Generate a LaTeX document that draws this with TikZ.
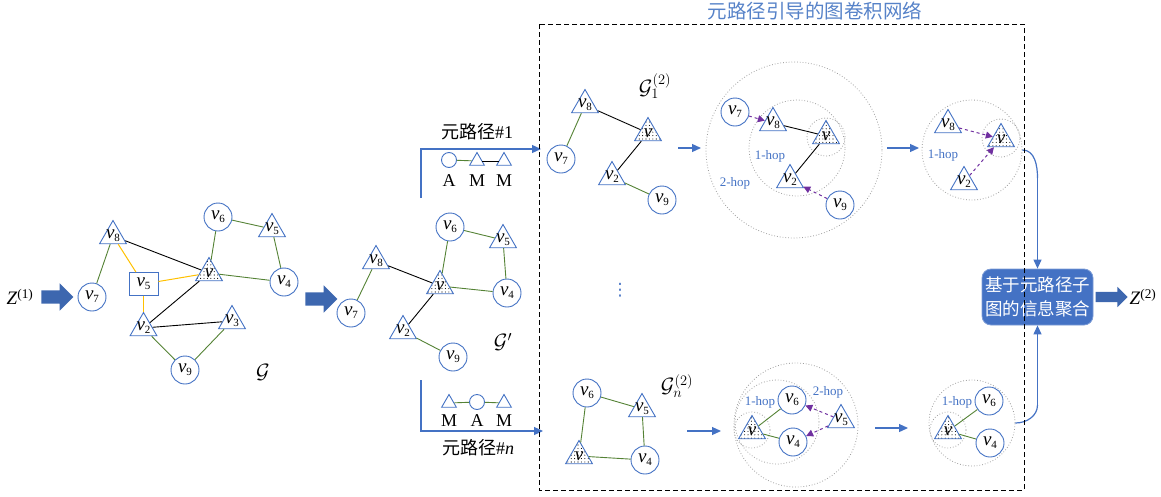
\documentclass[tikz,border=0pt]{standalone}
\usepackage{fontspec}
\setmainfont{Liberation Serif}
\newfontfamily\cjk{Noto Sans CJK SC}
\newfontfamily\dvs{DejaVu Sans}
\usetikzlibrary{shapes.geometric,shapes.arrows,patterns.meta,arrows.meta}
\definecolor{nb}{RGB}{68,114,196}
\definecolor{eg}{RGB}{84,130,53}
\definecolor{eo}{RGB}{255,192,0}
\definecolor{pu}{RGB}{112,48,160}
\definecolor{tb}{RGB}{86,130,200}
\definecolor{ab}{RGB}{61,103,175}
\definecolor{aggc}{RGB}{68,114,196}
\newcommand\vl[1]{\textit{v}\kern-0.3pt\raisebox{-0.35ex}{\fontsize{11}{11}\selectfont #1}}
\tikzset{
 cn/.style={circle,draw=nb,line width=0.9pt,fill=white,minimum size=28pt,inner sep=0pt,font=\fontsize{19}{19}\selectfont},
 sq/.style={rectangle,draw=nb,line width=0.9pt,fill=white,minimum width=29pt,minimum height=23pt,inner sep=0pt,font=\fontsize{19}{19}\selectfont},
 tbase/.style={regular polygon,regular polygon sides=3,draw=nb,line width=0.9pt,minimum size=31pt,inner sep=0pt},
 tn/.style={tbase,fill=white},
 tv/.style={tbase,preaction={fill=white},pattern={Dots[distance=3.4pt,radius=0.55pt]},label={[lbl]center:\textit{v}}},
 lbl/.style={font=\fontsize{19}{19}\selectfont,inner sep=0pt},
 smc/.style={circle,draw=nb,line width=0.9pt,fill=white,minimum size=15pt,inner sep=0pt},
 smt/.style={regular polygon,regular polygon sides=3,draw=nb,line width=0.9pt,fill=white,minimum size=17pt,inner sep=0pt},
 ge/.style={draw=eg,line width=0.9pt},
 be/.style={draw=black,line width=0.9pt},
 oe/.style={draw=eo,line width=1pt},
 pa/.style={draw=pu,dashed,line width=1pt,-{Triangle[length=7pt,width=7pt]}},
 ringn/.style={circle,draw=gray!75,dotted,line width=0.8pt,inner sep=0pt},
 ba/.style={draw=nb,line width=1.2pt,-{Triangle[length=9pt,width=8pt]}},
 bl/.style={draw=nb,line width=1.2pt},
 hop/.style={text=nb,font=\fontsize{13}{13}\selectfont,inner sep=0pt},
 bigarrow/.style={single arrow,fill=ab,draw=none,minimum height=32pt,text height=13pt,text depth=0pt,text width=0pt,single arrow head extend=7pt,inner sep=0pt},
 outarrow/.style={single arrow,fill=ab,draw=none,minimum height=32pt,text height=10pt,text depth=0pt,text width=0pt,single arrow head extend=5pt,inner sep=0pt},
 gl/.style={font=\fontsize{21}{21}\selectfont,inner sep=0pt},
 zt/.style={font=\fontsize{19}{19}\selectfont,inner sep=0pt},
 mpt/.style={font=\fontsize{18}{18}\selectfont,inner sep=0pt},
 mlab/.style={font=\fontsize{18}{18}\selectfont,inner sep=0pt},
}
\begin{document}
\begin{tikzpicture}[x=1pt,y=-1pt]
\useasboundingbox (0,0) rectangle (1161,496);

% ---------- left graph G ----------
\node[zt] (z1) at (20,297) {\textit{Z}\textsuperscript{(1)}};
\node[bigarrow] (ar1) at (54,297) {};
\node[cn] (a7) at (92,297) {\vl7};
\node[tn,label={[lbl]center:\vl8}] (a8) at (113,236) {};
\node[sq] (a5) at (143.5,284) {\vl5};
\node[tv] (av) at (209,273) {};
\node[cn] (a6) at (218,217) {\vl6};
\node[tn,label={[lbl]center:\vl5}] (a5t) at (272,229) {};
\node[cn] (a4) at (284,282) {\vl4};
\node[tn,label={[lbl]center:\vl2}] (a2) at (143.5,328) {};
\node[tn,label={[lbl]center:\vl3}] (a3) at (232,321) {};
\node[cn] (a9) at (185,370) {\vl9};
\node[gl] (ga) at (263,372) {$\mathcal{G}$};
\draw[ge] (a7) -- (a8);
\draw[oe] (a8) -- (a5);
\draw[be] (a8) -- (av);
\draw[oe] (a5) -- (av);
\draw[oe] (a5) -- (a2);
\draw[be] (a2) -- (av);
\draw[be] (a2) -- (a3);
\draw[ge] (a2) -- (a9);
\draw[ge] (a3) -- (a9);
\draw[ge] (av) -- (a6);
\draw[ge] (av) -- (a4);
\draw[ge] (a6) -- (a5t);
\draw[ge] (a5t) -- (a4);

% ---------- G' ----------
\node[bigarrow] (ar2) at (318,299) {};
\node[cn] (b7) at (351,313) {\vl7};
\node[tn,label={[lbl]center:\vl8}] (b8) at (376,261) {};
\node[tv] (bv) at (440,286) {};
\node[cn] (b6) at (450,227) {\vl6};
\node[tn,label={[lbl]center:\vl5}] (b5) at (503,240) {};
\node[cn] (b4) at (507,293) {\vl4};
\node[tn,label={[lbl]center:\vl2}] (b2) at (403,331) {};
\node[cn] (b9) at (453,357) {\vl9};
\node[gl] (gb) at (503,342) {$\mathcal{G}'$};
\draw[ge] (b7) -- (b8);
\draw[be] (b8) -- (bv);
\draw[be] (bv) -- (b2);
\draw[ge] (b2) -- (b9);
\draw[ge] (bv) -- (b6);
\draw[ge] (bv) -- (b4);
\draw[ge] (b6) -- (b5);
\draw[ge] (b5) -- (b4);

% ---------- meta-path #1 ----------
\node[mpt] (mp1) at (477,132) {{\cjk 元路径}\#1};
\coordinate (m1a) at (421,198);
\coordinate (m1b) at (421,149);
\coordinate (m1c) at (541,149);
\draw[ba] (m1a) -- (m1b) -- (m1c);
\node[smc] (p1a) at (449,160) {};
\node[smt] (p1m) at (477,161) {};
\node[smt] (p1n) at (504,161) {};
\draw[ge] (p1a) -- (p1m);
\draw[be] (p1m) -- (p1n);
\node[mlab] (l1a) at (449,181) {A};
\node[mlab] (l1m) at (477,181) {M};
\node[mlab] (l1n) at (504,181) {M};

% ---------- meta-path #n ----------
\coordinate (mna) at (421,380);
\coordinate (mnb) at (421,431);
\coordinate (mnc) at (543,431);
\draw[ba] (mna) -- (mnb) -- (mnc);
\node[smt] (pnm) at (449,403) {};
\node[smc] (pna) at (477,402) {};
\node[smt] (pnn) at (504,403) {};
\draw[ge] (pnm) -- (pna);
\draw[ge] (pna) -- (pnn);
\node[mlab] (lnm) at (449,421) {M};
\node[mlab] (lna) at (477,421) {A};
\node[mlab] (lnn) at (504,421) {M};
\node[mpt] (mpn) at (478,448) {{\cjk 元路径}\#\textit{n}};

% ---------- title ----------
\node[text=tb,font=\fontsize{19.5}{19.5}\selectfont\cjk,inner sep=0pt] (title) at (815,11) {元路径引导的图卷积网络};

% ---------- G1^(2) ----------
\node[gl] (g1) at (655,86) {$\mathcal{G}_1^{(2)}$};
\node[tn,label={[lbl]center:\vl8}] (c8) at (585,105) {};
\node[tv] (cv) at (648,133) {};
\node[cn] (c7) at (561,159) {\vl7};
\node[tn,label={[lbl]center:\vl2}] (c2) at (612,177) {};
\node[cn] (c9) at (662,200) {\vl9};
\draw[ge] (c7) -- (c8);
\draw[be] (c8) -- (cv);
\draw[be] (cv) -- (c2);
\draw[ge] (c2) -- (c9);
\coordinate (s1a) at (678,148);
\coordinate (s1b) at (701,148);
\draw[ba] (s1a) -- (s1b);

% ---------- hop diagram top ----------
\node[ringn,minimum size=176pt] (r1o) at (794,150) {};
\node[ringn,minimum size=96pt] (r1m) at (797,148) {};
\node[ringn,minimum size=38pt] (r1s) at (826,137) {};
\node[cn] (d7) at (735,112) {\vl7};
\node[tn,label={[lbl]center:\vl8}] (d8) at (773,123) {};
\node[tv] (dv) at (826,136) {};
\node[tn,label={[lbl]center:\vl2}] (d2) at (790,180) {};
\node[cn] (d9) at (840,205) {\vl9};
\draw[be] (d8) -- (dv);
\draw[be] (dv) -- (d2);
\draw[pa] (d7) -- (d8);
\draw[pa] (d9) -- (d2);
\node[hop] (h1) at (770,156) {1-hop};
\node[hop] (h2) at (735,183) {2-hop};
\coordinate (s2a) at (887,148);
\coordinate (s2b) at (919,148);
\draw[ba] (s2a) -- (s2b);

% ---------- top result ----------
\node[ringn,minimum size=100pt] (r2o) at (972,150) {};
\node[ringn,minimum size=38pt] (r2s) at (1001,138) {};
\node[tn,label={[lbl]center:\vl8}] (e8) at (948,125) {};
\node[tv] (ev) at (1001,139) {};
\node[tn,label={[lbl]center:\vl2}] (e2) at (964,182) {};
\draw[pa] (e8) -- (ev);
\draw[pa] (e2) -- (ev);
\node[hop] (h3) at (943,155) {1-hop};

% ---------- Gn^(2) ----------
\node[gl] (gn) at (677,386) {$\mathcal{G}_n^{(2)}$};
\node[cn] (f6) at (587,393) {\vl6};
\node[tn,label={[lbl]center:\vl5}] (f5) at (642,409) {};
\node[tv] (fv) at (579,456) {};
\node[cn] (f4) at (645,460) {\vl4};
\draw[ge] (f6) -- (f5);
\draw[ge] (f5) -- (f4);
\draw[ge] (f6) -- (fv);
\draw[ge] (fv) -- (f4);
\coordinate (s3a) at (687,431);
\coordinate (s3b) at (721,431);
\draw[ba] (s3a) -- (s3b);

% ---------- hop diagram bottom ----------
\node[ringn,minimum size=124pt] (r3o) at (796,425) {};
\node[ringn,minimum size=84pt] (r3m) at (777,422) {};
\node[ringn,minimum size=36pt] (r3s) at (752,430) {};
\node[tv] (gv) at (752,431) {};
\node[cn] (g6) at (792,400) {\vl6};
\node[cn] (g4) at (793,442) {\vl4};
\node[tn,label={[lbl]center:\vl5}] (g5) at (841,420) {};
\draw[ge] (gv) -- (g6);
\draw[ge] (gv) -- (g4);
\draw[pa] (g5) -- (g6);
\draw[pa] (g5) -- (g4);
\node[hop] (h4) at (760,402) {1-hop};
\node[hop] (h5) at (828,392) {2-hop};
\coordinate (s4a) at (875,428);
\coordinate (s4b) at (908,428);
\draw[ba] (s4a) -- (s4b);

% ---------- bottom result ----------
\node[ringn,minimum size=86pt] (r4o) at (972,423) {};
\node[ringn,minimum size=36pt] (r4s) at (948,430) {};
\node[tv] (kv) at (948,431) {};
\node[cn] (k6) at (989,401) {\vl6};
\node[cn] (k4) at (990,443) {\vl4};
\draw[ge] (kv) -- (k6);
\draw[ge] (kv) -- (k4);
\node[hop] (h6) at (957,402) {1-hop};

% ---------- ellipsis ----------
\node[text=nb,font=\fontsize{17}{17}\selectfont\dvs,inner sep=0pt] (dots) at (620,290) {⋮};

% ---------- aggregation ----------
\node[rectangle,rounded corners=9pt,fill=aggc,draw=nb!70!white,line width=0.8pt,minimum width=111pt,minimum height=56pt,inner sep=0pt,align=center,text=white,font=\fontsize{17.5}{24}\selectfont\cjk] (agg) at (1037.5,297) {基于元路径子\\图的信息聚合};
\coordinate (tup) at (1037.5,178);
\coordinate (tdn) at (1037.5,405);
\draw[bl] (r2o.east) to[out=0,in=90] (tup);
\draw[ba] (tup) -- (agg.north);
\draw[bl] (r4o.east) to[out=0,in=-90] (tdn);
\draw[ba] (tdn) -- (agg.south);
\node[outarrow] (ar3) at (1109,297) {};
\node[zt] (z2) at (1143,297) {\textit{Z}\textsuperscript{(2)}};

% ---------- dashed frame ----------
\draw[black,line width=1pt,dash pattern=on 5pt off 3pt] (539,24) rectangle (1024,490);
\end{tikzpicture}
\end{document}
